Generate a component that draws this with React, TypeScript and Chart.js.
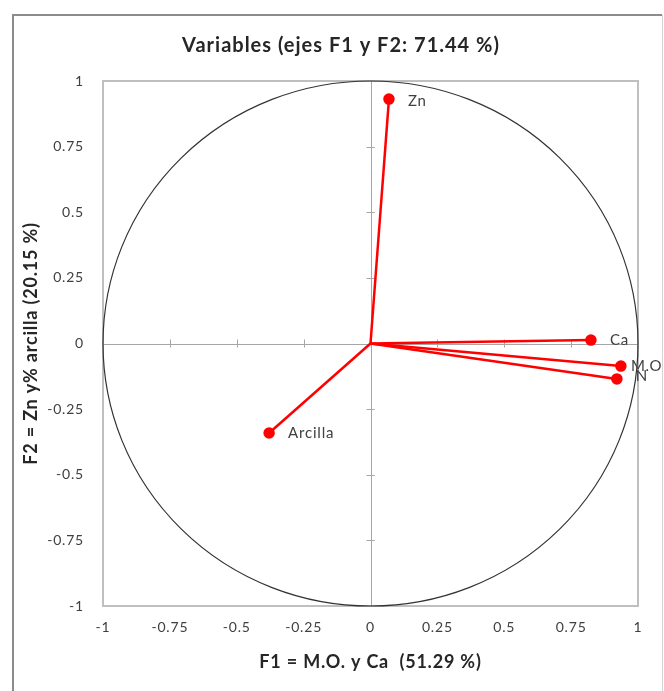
import React, { useEffect, useRef } from "react";
import { Chart, registerables } from "chart.js";

Chart.register(...registerables);

// ---- data ----
const variables = ["Zn", "Ca", "M.O", "N", "Arcilla"];
const f1Values = [0.069, 0.824, 0.936, 0.921, -0.379];
const f2Values = [0.931, 0.013, -0.086, -0.135, -0.341];
const tickValues = [-1, -0.75, -0.5, -0.25, 0, 0.25, 0.5, 0.75, 1];
const chartTitle = "Variables (ejes F1 y F2: 71.44 %)";
const xTitle = "F1 = M.O. y Ca  (51.29 %)";
const yTitle = "F2 = Zn y% arcilla (20.15 %)";

const FONT = "Lato, 'Open Sans', sans-serif";
const RED = "#ff0000";

// label placement tweaks (style only)
const labelShift: Record<string, [number, number]> = {
  "M.O": [10, 0],
  N: [19, -3],
  Zn: [19, 2],
};

const spacingPlugin = {
  id: "spacing",
  beforeDraw(chart: any) {
    chart.ctx.letterSpacing = "0.8px";
  },
  afterDraw(chart: any) {
    chart.ctx.letterSpacing = "0px";
  },
};

const decorPlugin = {
  id: "decor",
  beforeDatasetsDraw(chart: any) {
    const { ctx, chartArea, scales } = chart;
    const xs = scales.x;
    const ys = scales.y;
    ctx.save();
    // outer frame
    ctx.strokeStyle = "#8c8c8c";
    ctx.lineWidth = 2;
    ctx.beginPath();
    ctx.moveTo(13, 700);
    ctx.lineTo(13, 15);
    ctx.lineTo(662, 15);
    ctx.stroke();
    ctx.strokeStyle = "#d4d4d4";
    ctx.lineWidth = 1;
    ctx.beginPath();
    ctx.moveTo(662.5, 15);
    ctx.lineTo(662.5, 700);
    ctx.stroke();

    // plot border
    ctx.strokeStyle = "#bfbfbf";
    ctx.lineWidth = 2;
    ctx.strokeRect(chartArea.left, chartArea.top, chartArea.right - chartArea.left, chartArea.bottom - chartArea.top);

    // zero axes
    const x0 = xs.getPixelForValue(0);
    const y0 = ys.getPixelForValue(0);
    ctx.strokeStyle = "#a6a6a6";
    ctx.lineWidth = 1;
    ctx.beginPath();
    ctx.moveTo(chartArea.left, Math.round(y0) + 0.5);
    ctx.lineTo(chartArea.right, Math.round(y0) + 0.5);
    ctx.moveTo(Math.round(x0) + 0.5, chartArea.top);
    ctx.lineTo(Math.round(x0) + 0.5, chartArea.bottom);
    tickValues.forEach((v) => {
      if (v === 0 || Math.abs(v) === 1) return;
      const px = Math.round(xs.getPixelForValue(v)) + 0.5;
      ctx.moveTo(px, y0 - 4);
      ctx.lineTo(px, y0 + 4);
      const py = Math.round(ys.getPixelForValue(v)) + 0.5;
      ctx.moveTo(x0 - 4, py);
      ctx.lineTo(x0 + 4, py);
    });
    ctx.stroke();

    // correlation circle
    const rx = xs.getPixelForValue(1) - x0;
    const ry = y0 - ys.getPixelForValue(1);
    ctx.strokeStyle = "#333333";
    ctx.lineWidth = 1.2;
    ctx.beginPath();
    ctx.ellipse(x0, y0, rx, ry, 0, 0, Math.PI * 2);
    ctx.stroke();

    // main title
    ctx.fillStyle = "#262626";
    ctx.font = `bold 20px ${FONT}`;
    ctx.letterSpacing = "1px";
    ctx.textAlign = "center";
    ctx.textBaseline = "middle";
    ctx.fillText(chartTitle, 341, 46);
    ctx.restore();
  },
  afterDatasetsDraw(chart: any) {
    const { ctx, scales } = chart;
    ctx.save();
    ctx.fillStyle = "#404040";
    ctx.font = `15px ${FONT}`;
    ctx.letterSpacing = "0.8px";
    ctx.textAlign = "left";
    ctx.textBaseline = "middle";
    variables.forEach((name, i) => {
      const px = scales.x.getPixelForValue(f1Values[i]);
      const py = scales.y.getPixelForValue(f2Values[i]);
      const [dx, dy] = labelShift[name] || [19, 0];
      ctx.fillText(name, px + dx, py + dy);
    });
    ctx.restore();
  },
};

export default function App() {
  const ref = useRef<HTMLCanvasElement | null>(null);
  useEffect(() => {
    if (!ref.current) return;
    const datasets = variables.map((name, i) => ({
      label: name,
      data: [
        { x: 0, y: 0 },
        { x: f1Values[i], y: f2Values[i] },
      ],
      showLine: true,
      borderColor: RED,
      borderWidth: 2.5,
      backgroundColor: RED,
      pointBackgroundColor: RED,
      pointBorderColor: RED,
      pointRadius: [0, 4.5],
      pointHoverRadius: [0, 4.5],
    }));
    const tickFont = { family: FONT, size: 14 };
    const chart = new Chart(ref.current, {
      type: "scatter",
      data: { datasets },
      options: {
        animation: false,
        responsive: false,
        layout: { padding: { left: 0, right: 26, top: 81, bottom: 0 } },
        plugins: {
          legend: { display: false },
          tooltip: { enabled: false },
          title: { display: false },
        },
        scales: {
          x: {
            type: "linear",
            position: "bottom",
            min: -1,
            max: 1,
            afterBuildTicks: (s: any) => {
              s.ticks = tickValues.map((v) => ({ value: v }));
            },
            afterFit: (s: any) => {
              s.height = 85;
            },
            grid: { display: false, drawTicks: false, tickLength: 0 },
            border: { display: false },
            ticks: {
              padding: 13,
              color: "#404040",
              font: tickFont,
              maxRotation: 0,
              autoSkip: false,
              callback: (v: any) => String(v),
            },
            title: {
              display: true,
              text: xTitle,
              color: "#262626",
              font: { family: FONT, size: 18, weight: "bold" },
              padding: { top: 0, bottom: 18 },
            },
          },
          y: {
            type: "linear",
            position: "left",
            min: -1,
            max: 1,
            afterBuildTicks: (s: any) => {
              s.ticks = tickValues.map((v) => ({ value: v }));
            },
            afterFit: (s: any) => {
              s.width = 103;
            },
            grid: { display: false, drawTicks: false, tickLength: 0 },
            border: { display: false },
            ticks: {
              padding: 19,
              color: "#404040",
              font: tickFont,
              autoSkip: false,
              callback: (v: any) => String(v),
            },
            title: {
              display: true,
              text: yTitle,
              color: "#262626",
              font: { family: FONT, size: 18, weight: "bold" },
              padding: { top: 20, bottom: 0 },
            },
          },
        },
      },
      plugins: [spacingPlugin, decorPlugin],
    } as any);
    return () => chart.destroy();
  }, []);
  return (
    <div style={{ position: "absolute", left: 0, top: 0, width: 664, height: 691, background: "#ffffff" }}>
      <canvas ref={ref} width={664} height={691} style={{ display: "block" }} />
    </div>
  );
}
